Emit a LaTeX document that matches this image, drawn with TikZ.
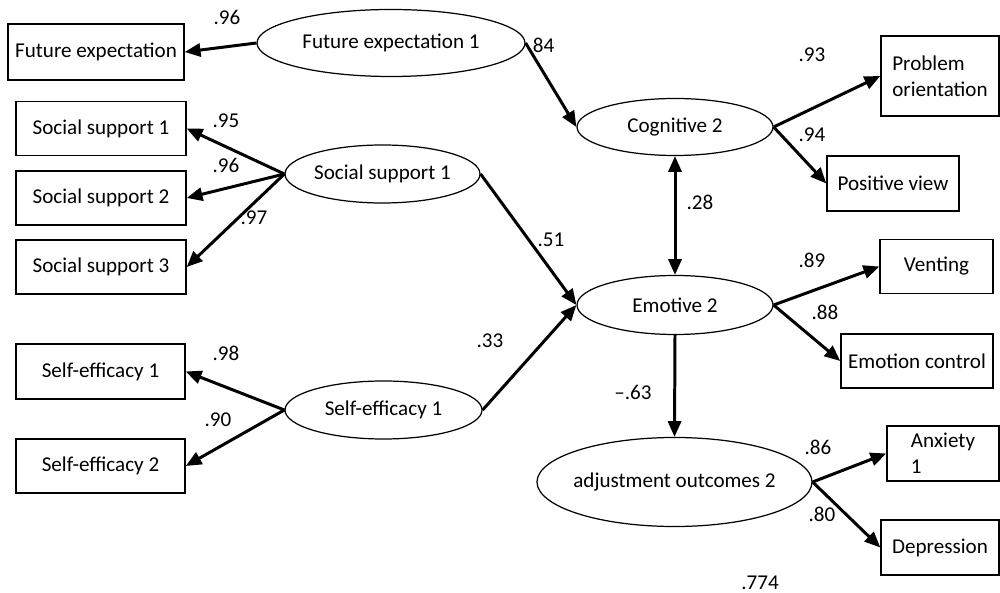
\documentclass[tikz,border=0pt]{standalone}
\usepackage{fontspec}
\setmainfont{Carlito}
\usepackage{tikz}
\usetikzlibrary{shapes.geometric,arrows.meta}

\begin{document}
\begin{tikzpicture}[x=0.2mm, y=-0.2mm,
  font=\fontsize{12}{15}\selectfont,
  obs/.style={draw, line width=0.8pt, inner sep=0pt},
  latent/.style={draw, ellipse, line width=0.7pt, inner sep=0pt},
  coef/.style={inner sep=0pt},
  load/.style={line width=1.7pt, -{Triangle[length=9pt,width=7.5pt]}},
  dbl/.style={line width=1.7pt, {Triangle[length=9pt,width=7.5pt]}-{Triangle[length=9pt,width=7.5pt]}}]

\useasboundingbox (0,0) rectangle (1000,593);

\node[obs, minimum width=3.52cm, minimum height=1.12cm] (fe) at (96,52) {Future expectation};
\node[obs, minimum width=3.4cm, minimum height=1.07cm] (ss1) at (101,128.5) {Social support 1};
\node[obs, minimum width=3.4cm, minimum height=1.08cm] (ss2) at (101,198) {Social support 2};
\node[obs, minimum width=3.4cm, minimum height=1.08cm] (ss3) at (101,267) {Social support 3};
\node[obs, minimum width=3.38cm, minimum height=1.1cm] (se1) at (100.5,371.5) {Self-efficacy 1};
\node[obs, minimum width=3.38cm, minimum height=1.08cm] (se2) at (100.5,466) {Self-efficacy 2};

\node[obs, minimum width=2.36cm, minimum height=1.6cm, align=left] (po) at (940,76) {Problem\\orientation};
\node[obs, minimum width=2.64cm, minimum height=1.1cm] (pv) at (893,183.5) {Positive view};
\node[obs, minimum width=2.26cm, minimum height=1.08cm] (vent) at (936.5,266.5) {Venting};
\node[obs, minimum width=3.04cm, minimum height=1.08cm] (ec) at (917,361) {Emotion control};
\node[obs, minimum width=2.24cm, minimum height=1.1cm, align=left] (anx) at (943,453.5) {Anxiety\\1};
\node[obs, minimum width=2.36cm, minimum height=1.1cm] (dep) at (940,547.5) {Depression};

\node[latent, minimum width=5.36cm, minimum height=1.34cm] (fel) at (391,43) {Future expectation 1};
\node[latent, minimum width=3.92cm, minimum height=1.14cm] (cog) at (675,127) {Cognitive 2};
\node[latent, minimum width=3.9cm, minimum height=1.16cm] (ssl) at (382.5,174) {Social support 1};
\node[latent, minimum width=3.92cm, minimum height=1.18cm] (emo) at (675,305) {Emotive 2};
\node[latent, minimum width=3.94cm, minimum height=1.16cm] (sel) at (383.5,410) {Self-efficacy 1};
\node[latent, minimum width=5.5cm, minimum height=1.78cm, inner xsep=-8pt] (adj) at (674.5,482) {adjustment outcomes 2};

\draw[load] (fel.west) -- (fe.east);
\draw[load] (fel.east) -- (cog.west);
\foreach \b in {ss1,ss2,ss3}
  \draw[load] (ssl.west) -- (\b.east);
\foreach \b in {se1,se2}
  \draw[load] (sel.west) -- (\b.east);
\draw[load] (ssl.east) -- (emo.west);
\draw[load] (sel.east) -- (emo.west);
\draw[dbl] (cog.south) -- (emo.north);
\draw[load] (cog.east) -- (po.west);
\draw[load] (cog.east) -- (pv.west);
\draw[load] (emo.east) -- (vent.west);
\draw[load] (emo.east) -- (ec.west);
\draw[load] (emo.south) -- (adj.north);
\draw[load] (adj.east) -- (anx.west);
\draw[load] (adj.east) -- (dep.west);

\node[coef] (kfe) at (227,17) {.96};
\node[coef] (kfc) at (541,45) {.84};
\node[coef] (kss1) at (226,121) {.95};
\node[coef] (kss2) at (226,165) {.96};
\node[coef] (kss3) at (254,218) {.97};
\node[coef] (kse) at (551,240) {.51};
\node[coef] (kce) at (700,202) {.28};
\node[coef] (kme) at (490,341) {.33};
\node[coef] (kse1) at (226,353) {.98};
\node[coef] (kse2) at (218,420) {.90};
\node[coef] (kpo) at (812,55) {.93};
\node[coef] (kpv) at (812,135) {.94};
\node[coef] (kve) at (812,260) {.89};
\node[coef] (kec) at (825,312) {.88};
\node[coef] (kea) at (633,392) {\textendash.63};
\node[coef] (kan) at (818,447) {.86};
\node[coef] (kde) at (822,514) {.80};
\node[coef] (kr) at (760,583) {.774};

\end{tikzpicture}
\end{document}
